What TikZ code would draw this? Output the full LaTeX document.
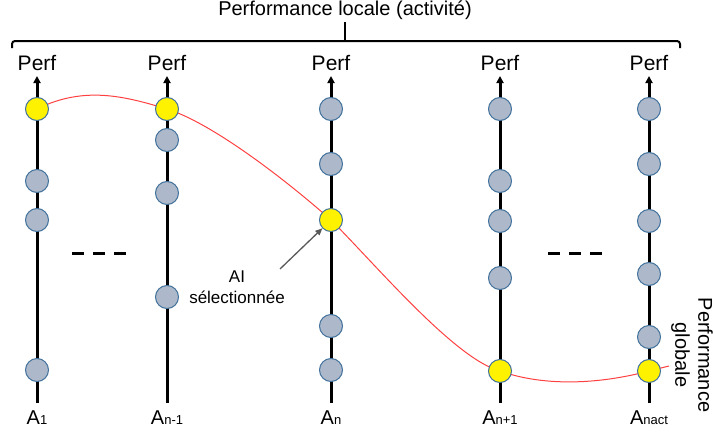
\documentclass[tikz,border=0pt]{standalone}
\usepackage{fontspec}
\setmainfont{Liberation Sans}
\usetikzlibrary{arrows.meta}
\definecolor{dotfill}{HTML}{ADB9CA}
\definecolor{dotline}{HTML}{41719C}
\definecolor{curvered}{HTML}{FF4040}
\definecolor{ptrgrey}{HTML}{595959}
\newcommand\subtxt[1]{{\fontsize{13}{15}\selectfont #1}}
\pgfdeclarelayer{bg}
\pgfsetlayers{bg,main}
\begin{document}
\begin{tikzpicture}[x=1pt,y=-1pt,
  axisline/.style={line width=3pt,-{Triangle[length=7pt,width=7pt]}},
  dot/.style={circle,minimum size=23pt,inner sep=0pt,fill=dotfill,draw=dotline,line width=1pt},
  best/.style={dot,fill=yellow},
  perflbl/.style={font=\fontsize{21}{25}\selectfont,anchor=base,inner sep=0pt},
  albl/.style={font=\fontsize{20}{24}\selectfont,anchor=base,inner sep=0pt},
  curve/.style={draw=curvered,line width=1pt},
  ptr/.style={draw=ptrgrey,line width=1.3pt,-{Triangle[length=7pt,width=6pt]}},
  brace/.style={line width=2pt,rounded corners=3pt},
  gap/.style={line width=3pt,dash pattern=on 12pt off 9pt}
]
\useasboundingbox (0,0) rectangle (713,434);

% title and brace
\node[font=\fontsize{20}{24}\selectfont,anchor=base,inner sep=0pt] (title) at (345,15) {Performance locale (activité)};
\coordinate (brl) at (12,48);
\coordinate (brr) at (680,48);
\coordinate (brm) at (345,41);
\coordinate (brt) at (345,22);
\draw[brace] (brl) |- (brm) -| (brr);
\draw[line width=2pt] (brm) -- (brt);

% axes
\foreach \i/\x in {1/37,2/167,3/331,4/500,5/649}{
  \coordinate (b\i) at (\x,403);
  \coordinate (t\i) at (\x,76);
  \draw[axisline] (b\i) -- (t\i);
  \node[perflbl] (p\i) at (\x,70) {Perf};
}

% axis labels
\node[albl] (l1) at (37,424) {A\subtxt{1}};
\node[albl] (l2) at (167,424) {A\subtxt{n-1}};
\node[albl] (l3) at (331,424) {A\subtxt{n}};
\node[albl] (l4) at (500,424) {A\subtxt{n+1}};
\node[albl] (l5) at (649,424) {A\subtxt{nact}};

% dots axis 1
\node[best] (y1) at (37,109) {};
\node[dot] (d12) at (37,181) {};
\node[dot] (d13) at (37,220) {};
\node[dot] (d14) at (37,370) {};
% axis 2
\node[best] (y2) at (167,109) {};
\node[dot] (d22) at (167,140) {};
\node[dot] (d23) at (167,193) {};
\node[dot] (d24) at (167,297) {};
% axis 3
\node[dot] (d31) at (331,109) {};
\node[dot] (d32) at (331,164) {};
\node[best] (y3) at (331,220) {};
\node[dot] (d34) at (331,326) {};
\node[dot] (d35) at (331,370) {};
% axis 4
\node[dot] (d41) at (500,109) {};
\node[dot] (d42) at (500,181) {};
\node[dot] (d43) at (500,221) {};
\node[dot] (d44) at (500,278) {};
\node[best] (y4) at (500,371) {};
% axis 5
\node[dot] (d51) at (649,109) {};
\node[dot] (d52) at (649,164) {};
\node[dot] (d53) at (649,221) {};
\node[dot] (d54) at (649,274) {};
\node[dot] (d55) at (649,337) {};
\node[best] (y5) at (649,371) {};

% global performance curve
\coordinate (cend) at (669,366);
\begin{pgfonlayer}{bg}
\draw[curve] (y1.center) .. controls (85,85) and (127,97) .. (y2.center)
  .. controls (212,123) and (286,180) .. (y3.center)
  .. controls (376,265) and (455,359) .. (y4.center)
  .. controls (545,387) and (600,384) .. (y5.center) -- (cend);
\end{pgfonlayer}

% gaps
\draw[gap] (72,253) -- (126,253);
\draw[gap] (548,253) -- (602,253);

% selected annotation
\node[font=\fontsize{17}{21}\selectfont,align=center,inner sep=0pt] (ai) at (237,287) {AI\\sélectionnée};
\coordinate (aistart) at (280,269);
\draw[ptr] (aistart) -- (y3);

% global label
\node[rotate=-90,align=center,font=\fontsize{20}{23}\selectfont,inner sep=0pt] (glob) at (692,355) {Performance\\globale};
\end{tikzpicture}
\end{document}
